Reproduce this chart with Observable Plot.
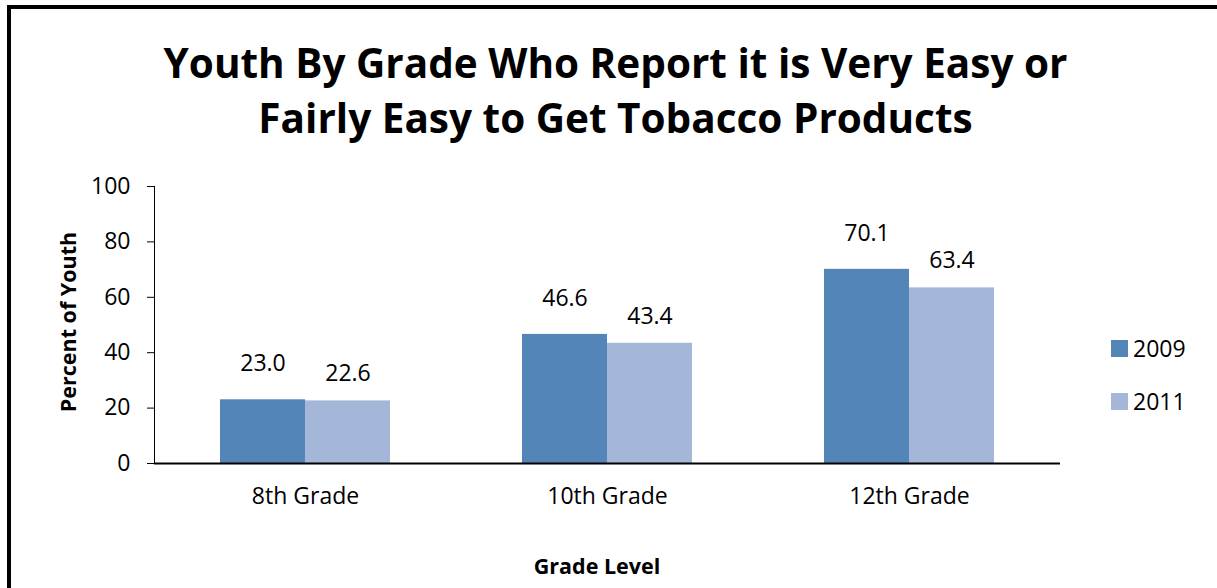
<!DOCTYPE html>
<html>
<head>
<meta charset="utf-8">
<script src="https://cdn.jsdelivr.net/npm/d3@7"></script>
<script src="https://cdn.jsdelivr.net/npm/@observablehq/plot@0.6"></script>
<style>
  html, body { margin: 0; padding: 0; background: #fff; }
  #wrap { position: relative; width: 1217px; height: 588px; overflow: hidden; font-family: "Open Sans", sans-serif; color: #000; }
  #border { position: absolute; left: 7px; top: 5px; width: 1300px; height: 700px; border-left: 4px solid #000; border-top: 4px solid #000; }
  #title { position: absolute; left: 0; width: 1231px; top: 35px; text-align: center; font-weight: 700; font-size: 40.5px; line-height: 55px; }
  #chart { position: absolute; left: 0; top: 160px; }
  #ylabel { position: absolute; left: 67px; top: 322px; transform: translate(-50%, -50%) rotate(-90deg); font-weight: 700; font-size: 21.5px; white-space: nowrap; }
  #xlabel { position: absolute; left: 597px; top: 565px; transform: translate(-50%, -50%); font-weight: 700; font-size: 21.5px; white-space: nowrap; }
  .leg { position: absolute; left: 1111px; display: flex; align-items: center; font-size: 23px; }
  .leg span.sw { width: 17px; height: 17px; display: inline-block; margin-right: 5px; }
</style>
</head>
<body>
<div id="wrap">
  <div id="border"></div>
  <div id="title">Youth By Grade Who Report it is Very Easy or<br>Fairly Easy to Get Tobacco Products</div>
  <div id="chart"></div>
  <div id="ylabel">Percent of Youth</div>
  <div id="xlabel">Grade Level</div>
  <div id="legend"></div>
</div>
<script>
const grades = ["8th Grade", "10th Grade", "12th Grade"];
const years = ["2009", "2011"];
const values2009 = [23.0, 46.6, 70.1];
const values2011 = [22.6, 43.4, 63.4];
const yTicks = [0, 20, 40, 60, 80, 100];
const colors = ["#5485B8", "#A4B7D9"];

const data = [];
grades.forEach((g, i) => {
  data.push({grade: g, year: years[0], value: values2009[i]});
  data.push({grade: g, year: years[1], value: values2011[i]});
});

const plot = Plot.plot({
  width: 1217,
  height: 428,
  marginTop: 26,
  marginBottom: 125,
  marginLeft: 153,
  marginRight: 156,
  style: {fontFamily: "'Open Sans', sans-serif", fontSize: "23px", color: "#000", background: "transparent", overflow: "visible"},
  fx: {domain: grades, padding: 0, label: null, axis: "bottom", tickSize: 0, tickPadding: 24},
  x: {domain: years, paddingInner: 0, paddingOuter: 0.76, axis: null},
  y: {domain: [0, 100], ticks: yTicks, tickSize: 7, tickPadding: 17, label: null, line: true},
  color: {domain: years, range: colors},
  marks: [
    Plot.barY(data, {fx: "grade", x: "year", y: "value", fill: "year"}),
    Plot.text(data.filter(d => d.year === years[0]), {fx: "grade", x: "year", y: "value", text: d => d.value.toFixed(1), dy: -36, fontSize: 23, fill: "#000"}),
    Plot.text(data.filter(d => d.year === years[1]), {fx: "grade", x: "year", y: "value", text: d => d.value.toFixed(1), dy: -27, fontSize: 23, fill: "#000"}),
    Plot.ruleY([0], {stroke: "#000", strokeWidth: 2})
  ]
});
document.getElementById("chart").appendChild(plot);

const legend = document.getElementById("legend");
years.forEach((y, i) => {
  const d = document.createElement("div");
  d.className = "leg";
  d.style.top = (332 + i * 53) + "px";
  d.innerHTML = `<span class="sw" style="background:${colors[i]}"></span><span>${y}</span>`;
  legend.appendChild(d);
});
</script>
</body>
</html>
